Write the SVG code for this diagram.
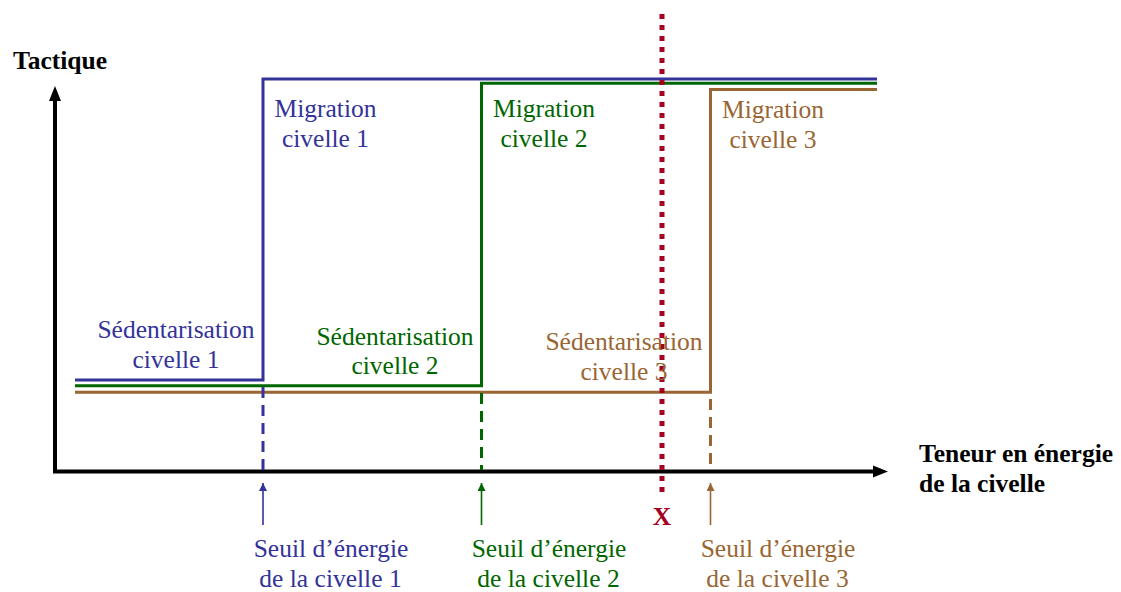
<svg xmlns="http://www.w3.org/2000/svg" width="1121" height="592" viewBox="0 0 1121 592">
<style>
text{font-family:"Liberation Serif","Times New Roman",serif;font-size:25.5px}
.c{text-anchor:middle}
.b{font-weight:bold;fill:#000}
.blue{fill:#333399}.green{fill:#006600}.brown{fill:#996633}
.sb{stroke:#333399}.sg{stroke:#006600}.sr{stroke:#996633}
.step{fill:none;stroke-width:3}
.dash{fill:none;stroke-width:3;stroke-dasharray:11 7}
.thin{fill:none;stroke-width:1.6}
</style>
<defs>
<marker id="ab" viewBox="0 0 10 10" refX="10" refY="5" markerWidth="5" markerHeight="5" orient="auto" markerUnits="strokeWidth"><path d="M0,0 L10,5 L0,10 z" fill="#333399"/></marker>
<marker id="ag" viewBox="0 0 10 10" refX="10" refY="5" markerWidth="5" markerHeight="5" orient="auto" markerUnits="strokeWidth"><path d="M0,0 L10,5 L0,10 z" fill="#006600"/></marker>
<marker id="ar" viewBox="0 0 10 10" refX="10" refY="5" markerWidth="5" markerHeight="5" orient="auto" markerUnits="strokeWidth"><path d="M0,0 L10,5 L0,10 z" fill="#996633"/></marker>
</defs>
<rect width="1121" height="592" fill="#fff"/>
<g id="axes">
<path d="M55,473 V99" stroke="#000" stroke-width="4" fill="none"/>
<path d="M55,86 L49,101 L61,101 z" fill="#000"/>
<path d="M53,471.5 H875" stroke="#000" stroke-width="4" fill="none"/>
<path d="M888,471.5 L873,465.5 L873,477.5 z" fill="#000"/>
<text class="b" x="13" y="69">Tactique</text>
<text class="b" x="919" y="462">Teneur en énergie</text>
<text class="b" x="919" y="492">de la civelle</text>
</g>
<g id="connectors">
<path class="step sr" d="M75,392.3 H710.5 V89.5 H877"/>
<path class="step sg" d="M75,385.7 H481.5 V83.3 H877"/>
<path class="step sb" d="M75,380 H263 V79 H877"/>
<path class="dash sb" d="M263,387 V470"/>
<path class="dash sg" d="M481.5,393 V470"/>
<path class="dash sr" d="M710.5,399 V470"/>
<path class="thin sb" d="M263,525 V483" marker-end="url(#ab)"/>
<path class="thin sg" d="M481.5,525 V483" marker-end="url(#ag)"/>
<path class="thin sr" d="M710.5,525 V483" marker-end="url(#ar)"/>
<path d="M662,14 V493" stroke="#A50021" stroke-width="5" stroke-dasharray="5 6" fill="none"/>
</g>
<g id="civelle1">
<text class="c blue" x="325.5" y="117">Migration</text>
<text class="c blue" x="325.5" y="147">civelle 1</text>
<text class="c blue" x="176" y="338">Sédentarisation</text>
<text class="c blue" x="176" y="368">civelle 1</text>
<text class="c blue" x="331" y="557">Seuil d’énergie</text>
<text class="c blue" x="330.5" y="587">de la civelle 1</text>
</g>
<g id="civelle2">
<text class="c green" x="544" y="117">Migration</text>
<text class="c green" x="544" y="147">civelle 2</text>
<text class="c green" x="395" y="345">Sédentarisation</text>
<text class="c green" x="395" y="374">civelle 2</text>
<text class="c green" x="549" y="557">Seuil d’énergie</text>
<text class="c green" x="548.5" y="587">de la civelle 2</text>
</g>
<g id="civelle3">
<text class="c brown" x="773" y="118">Migration</text>
<text class="c brown" x="773" y="148">civelle 3</text>
<text class="c brown" x="624" y="350">Sédentarisation</text>
<text class="c brown" x="624" y="380">civelle 3</text>
<text class="c brown" x="778" y="557">Seuil d’énergie</text>
<text class="c brown" x="777.5" y="587">de la civelle 3</text>
</g>
<g id="x">
<text class="c b" x="662" y="525" style="fill:#A50021">X</text>
</g>
</svg>
